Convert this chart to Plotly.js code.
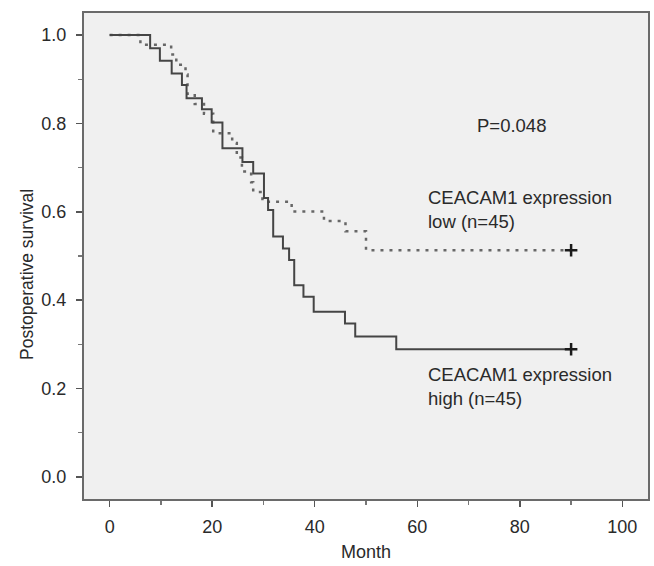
<!DOCTYPE html>
<html>
<head>
<meta charset="utf-8">
<script src="https://cdn.plot.ly/plotly-3.0.1.min.js"></script>
<style>html,body{margin:0;padding:0;background:#fff;}#chart{width:654px;height:566px;}</style>
</head>
<body>
<div id="chart"></div>
<script>
// High CEACAM1 expression (solid line)
const highMonths = [0, 7.9, 9.8, 12.1, 14.1, 15.0, 18.0, 19.9, 22.0, 25.9, 28.0, 30.1, 30.9, 31.9, 33.8, 35.0, 36.0, 37.8, 39.8, 45.9, 47.9, 55.9, 90];
const highSurv   = [1.0, 0.970, 0.942, 0.913, 0.887, 0.857, 0.832, 0.802, 0.744, 0.713, 0.687, 0.631, 0.604, 0.544, 0.517, 0.491, 0.434, 0.408, 0.374, 0.347, 0.318, 0.289, 0.289];
// Low CEACAM1 expression (dotted line)
const lowMonths = [0, 6.0, 12.0, 13.0, 14.8, 15.2, 16.6, 18.4, 20.2, 23.9, 24.8, 25.8, 27.6, 28.0, 29.8, 35.5, 41.8, 46.0, 50.0, 90];
const lowSurv   = [1.0, 0.978, 0.956, 0.933, 0.911, 0.867, 0.844, 0.822, 0.778, 0.756, 0.723, 0.691, 0.667, 0.645, 0.623, 0.601, 0.579, 0.556, 0.513, 0.513];
// Censored marks at end of follow-up
const censorMonths = [90, 90];
const censorSurv = [0.513, 0.289];

const xTicks = [0, 20, 40, 60, 80, 100];
const yTicks = [0.0, 0.2, 0.4, 0.6, 0.8, 1.0];

const fontFam = '"Liberation Sans", Arial, Helvetica, sans-serif';
const txtColor = '#2a2a2a';

const traces = [
  {x: lowMonths, y: lowSurv, mode: 'lines', line: {shape: 'hv', color: '#676767', width: 2.5, dash: '3px,6px'}, hoverinfo: 'skip'},
  {x: highMonths, y: highSurv, mode: 'lines', line: {shape: 'hv', color: '#454545', width: 2}, hoverinfo: 'skip'},
  {x: censorMonths, y: censorSurv, mode: 'markers', marker: {symbol: 'cross-thin-open', size: 9, line: {width: 2.5, color: '#1a1a1a'}, color: '#1a1a1a'}, hoverinfo: 'skip'}
];

const layout = {
  width: 654, height: 566,
  margin: {l: 84, r: 6, t: 13, b: 67},
  paper_bgcolor: '#ffffff',
  plot_bgcolor: '#f0f0f0',
  showlegend: false,
  font: {family: fontFam, size: 18, color: txtColor},
  xaxis: {
    range: [-5, 105], tickvals: xTicks, ticktext: xTicks.map(String),
    ticks: 'outside', ticklen: 6, tickwidth: 1.5, tickcolor: '#555',
    minor: {dtick: 10, tick0: 0, ticks: 'outside', ticklen: 4, tickcolor: '#777', showgrid: false},
    showline: true, linecolor: '#6a6a6a', linewidth: 2, mirror: true,
    showgrid: false, zeroline: false,
    ticklabelstandoff: 4,
    tickfont: {size: 18, color: txtColor},
    title: {text: 'Month', font: {size: 18, color: txtColor}, standoff: 10}
  },
  yaxis: {
    range: [-0.05, 1.05], tickvals: yTicks, ticktext: yTicks.map(v => v.toFixed(1)),
    ticks: 'outside', ticklen: 6, tickwidth: 1.5, tickcolor: '#555',
    minor: {dtick: 0.1, tick0: 0, ticks: 'outside', ticklen: 4, tickcolor: '#777', showgrid: false},
    showline: true, linecolor: '#6a6a6a', linewidth: 2, mirror: true,
    showgrid: false, zeroline: false,
    ticklabelstandoff: 6,
    tickfont: {size: 18, color: txtColor}
  },
  annotations: [
    {x: 27, y: 275, xref: 'paper', yref: 'paper', text: 'Postoperative survival', textangle: -90, showarrow: false, xanchor: 'center', yanchor: 'middle', font: {size: 17.5, color: txtColor}},
    {x: 78.3, y: 0.796, xref: 'x', yref: 'y', text: 'P=0.048', showarrow: false, xanchor: 'center', yanchor: 'middle', font: {size: 18.5, color: txtColor}},
    {x: 61.7, y: 0.606, xref: 'x', yref: 'y', text: 'CEACAM1 expression<br>low (n=45)', showarrow: false, xanchor: 'left', yanchor: 'middle', align: 'left', font: {size: 18.5, color: txtColor}},
    {x: 61.7, y: 0.204, xref: 'x', yref: 'y', text: 'CEACAM1 expression<br>high (n=45)', showarrow: false, xanchor: 'left', yanchor: 'middle', align: 'left', font: {size: 18.5, color: txtColor}}
  ]
};

// convert the pixel position of the rotated y title to paper coordinates
const plotW = 654 - 84 - 6, plotH = 566 - 13 - 67;
layout.annotations[0].x = (27 - 84) / plotW;
layout.annotations[0].y = (566 - 67 - 275) / plotH;

Plotly.newPlot('chart', traces, layout, {displayModeBar: false, staticPlot: true});
</script>
</body>
</html>
